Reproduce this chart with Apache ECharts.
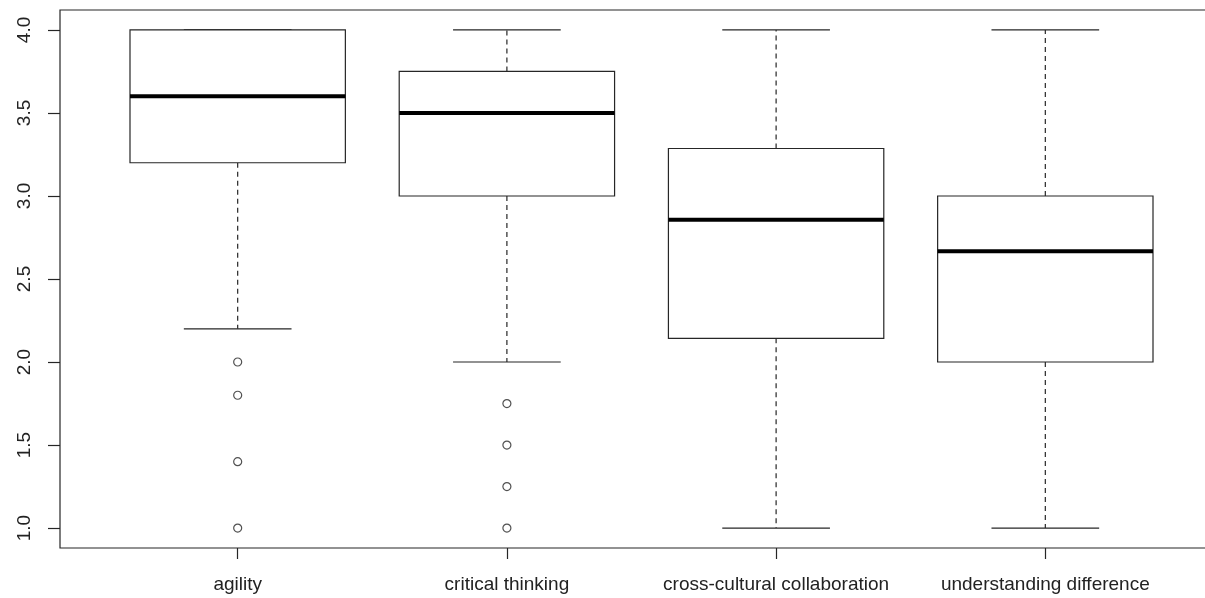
<!DOCTYPE html>
<html>
<head>
<meta charset="utf-8">
<script src="https://cdn.jsdelivr.net/npm/echarts@6/dist/echarts.min.js"></script>
<style>
  html, body { margin: 0; padding: 0; background: #fff; overflow: hidden; }
  /* the R plot region runs past the right edge of the picture, so the
     canvas is a bit wider than the window and gets clipped */
  #chart { width: 1223px; height: 598px; }
</style>
</head>
<body>
<div id="chart"></div>
<script>
// ── Data ───────────────────────────────────────────────────────────────
const categories = ['agility', 'critical thinking', 'cross-cultural collaboration', 'understanding difference'];
const whiskerLow = [2.2, 2.0, 1.0, 1.0];
const lowerQuartile = [3.2, 3.0, 2.143, 2.0];
const medians = [3.6, 3.5, 2.857, 2.667];
const upperQuartile = [4.0, 3.75, 3.286, 3.0];
const whiskerHigh = [4.0, 4.0, 4.0, 4.0];
const outliersAgility = [2.0, 1.8, 1.4, 1.0];
const outliersCritical = [1.75, 1.5, 1.25, 1.0];
const yTicks = [1.0, 1.5, 2.0, 2.5, 3.0, 3.5, 4.0];
const xPositions = [1, 2, 3, 4];

// R-style layout: box width 0.8, staple width half the box
const BOX_WEX = 0.8;
const STAPLE = 0.5;
const INK = '#262626';

const boxData = categories.map((c, i) => [
  xPositions[i], whiskerLow[i], lowerQuartile[i], medians[i], upperQuartile[i], whiskerHigh[i],
]);
const outlierData = [
  ...outliersAgility.map((v) => [xPositions[0], v]),
  ...outliersCritical.map((v) => [xPositions[1], v]),
];

function renderBox(params, api) {
  const x = api.value(0);
  const lo = api.coord([x, api.value(1)]);
  const q1 = api.coord([x, api.value(2)]);
  const med = api.coord([x, api.value(3)]);
  const q3 = api.coord([x, api.value(4)]);
  const hi = api.coord([x, api.value(5)]);
  const halfBox = api.size([BOX_WEX, 0])[0] / 2;
  const halfCap = halfBox * STAPLE;
  const cx = lo[0];
  const thin = { stroke: INK, lineWidth: 1.2, fill: null };
  const dashed = { stroke: INK, lineWidth: 1.2, lineDash: [5, 4] };
  return {
    type: 'group',
    children: [
      // whiskers
      { type: 'line', shape: { x1: cx, y1: q1[1], x2: cx, y2: lo[1] }, style: dashed },
      { type: 'line', shape: { x1: cx, y1: q3[1], x2: cx, y2: hi[1] }, style: dashed },
      // staples
      { type: 'line', shape: { x1: cx - halfCap, y1: lo[1], x2: cx + halfCap, y2: lo[1] }, style: thin },
      { type: 'line', shape: { x1: cx - halfCap, y1: hi[1], x2: cx + halfCap, y2: hi[1] }, style: thin },
      // box
      {
        type: 'rect',
        shape: { x: cx - halfBox, y: q3[1], width: halfBox * 2, height: q1[1] - q3[1] },
        style: { stroke: INK, lineWidth: 1.2, fill: '#fff' },
      },
      // median
      {
        type: 'line',
        shape: { x1: cx - halfBox, y1: med[1], x2: cx + halfBox, y2: med[1] },
        style: { stroke: '#000', lineWidth: 4 },
      },
    ],
  };
}

const chart = echarts.init(document.getElementById('chart'), null, { renderer: 'canvas' });
chart.setOption({
  animation: false,
  textStyle: { fontFamily: 'Liberation Sans, Arial, sans-serif' },
  grid: {
    left: 60, top: 10, bottom: 50, right: 0,
    show: true, borderColor: INK, borderWidth: 1.2, backgroundColor: 'transparent',
  },
  xAxis: {
    type: 'value',
    min: 0.34,
    max: 4.66,
    splitLine: { show: false },
    axisLine: { show: false },
    axisTick: { show: true, length: 11, customValues: xPositions, lineStyle: { color: INK, width: 1.2 } },
    axisLabel: {
      customValues: xPositions,
      formatter: (v) => categories[Math.round(v) - 1] || '',
      color: '#222', fontSize: 19, margin: 27,
    },
  },
  yAxis: {
    type: 'value',
    min: 0.88,
    max: 4.12,
    splitLine: { show: false },
    axisLine: { show: false },
    axisTick: { show: true, length: 12, customValues: yTicks, lineStyle: { color: INK, width: 1.2 } },
    axisLabel: {
      customValues: yTicks,
      formatter: (v) => v.toFixed(1),
      rotate: 90,
      color: '#222', fontSize: 19, margin: 26,
    },
  },
  series: [
    {
      type: 'custom',
      renderItem: renderBox,
      data: boxData,
      dimensions: ['x', 'min', 'q1', 'median', 'q3', 'max'],
      encode: { x: 0, y: [1, 2, 3, 4, 5] },
      z: 2,
    },
    {
      type: 'scatter',
      data: outlierData,
      symbol: 'circle',
      symbolSize: 8,
      itemStyle: { color: '#fff', borderColor: INK, borderWidth: 1.2 },
      z: 3,
    },
  ],
});
</script>
</body>
</html>
